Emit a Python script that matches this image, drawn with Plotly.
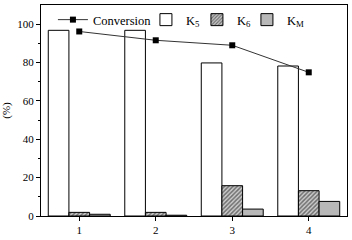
import plotly.graph_objects as go

categories = [1, 2, 3, 4]
k5 = [96.8, 96.8, 79.8, 78.2]
k6 = [1.9, 1.9, 15.8, 13.2]
km = [0.9, 0.4, 3.6, 7.6]
conversion = [96.2, 91.6, 89.0, 74.9]

font = "Liberation Serif, Times New Roman, serif"

fig = go.Figure()
fig.add_trace(go.Bar(x=categories, y=k5, name="K<sub>5</sub>",
                     marker=dict(color="white", line=dict(color="black", width=1)),
                     legendrank=2, legendwidth=6))
fig.add_trace(go.Bar(x=categories, y=k6, name="K<sub>6</sub>",
                     marker=dict(color="#9a9a9a", line=dict(color="black", width=1),
                                 pattern=dict(shape="/", fgcolor="#111111", bgcolor="#cccccc",
                                              size=3, solidity=0.5)),
                     legendrank=3, legendwidth=5))
fig.add_trace(go.Bar(x=categories, y=km, name="K<sub>M</sub>",
                     marker=dict(color="#b8b8b8", line=dict(color="black", width=1)),
                     legendrank=4))
fig.add_trace(go.Scatter(x=categories, y=conversion, name="Conversion",
                         mode="lines+markers",
                         line=dict(color="#333333", width=1),
                         marker=dict(symbol="square", size=6, color="black"),
                         legendrank=1, legendwidth=48))

fig.update_layout(
    width=352, height=240,
    margin=dict(l=38, r=5, t=4, b=23),
    paper_bgcolor="white", plot_bgcolor="white",
    barmode="group", bargap=0.19, bargroupgap=0,
    font=dict(family=font, size=11, color="black"),
    showlegend=True,
    legend=dict(orientation="h", x=0.039, y=1.0, xanchor="left", yanchor="top",
                bgcolor="rgba(0,0,0,0)", font=dict(size=12.5, family=font),
                itemwidth=30, tracegroupgap=0),
    xaxis=dict(range=[0.5, 4.5], tickmode="array", tickvals=categories,
               ticktext=[str(c) for c in categories],
               showline=True, linecolor="black", linewidth=1, mirror=True,
               ticks="outside", ticklen=4, tickcolor="black", showgrid=False,
               zeroline=False),
    yaxis=dict(range=[0, 110], tickvals=[0, 20, 40, 60, 80, 100],
               showline=True, linecolor="black", linewidth=1, mirror=True,
               ticks="outside", ticklen=4, tickcolor="black", showgrid=False,
               zeroline=False,
               minor=dict(tickvals=[10, 30, 50, 70, 90], ticks="outside", ticklen=2,
                          tickcolor="black"),
               title=dict(text="(%)", standoff=6, font=dict(size=11))),
)

fig.write_html("out.html", post_script="document.body.style.margin='0';",
               config={"displayModeBar": False})
